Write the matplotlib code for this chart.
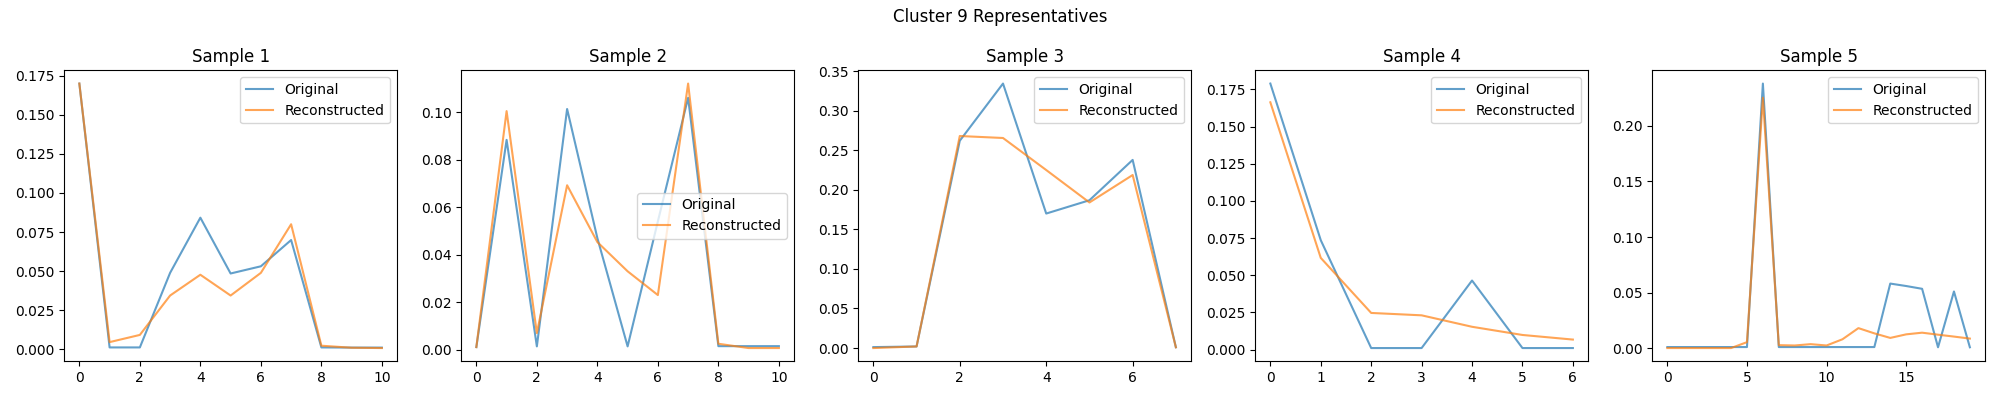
import matplotlib
matplotlib.use("Agg")
import matplotlib.pyplot as plt
import numpy as np

cluster_id = 9

# values
orig_1 = [0.170, 0.0012, 0.0012, 0.0489, 0.0842, 0.0485, 0.0531, 0.0699, 0.0012, 0.0011, 0.0011]
recon_1 = [0.170, 0.0046, 0.0092, 0.0344, 0.0477, 0.0344, 0.0489, 0.0800, 0.0023, 0.0010, 0.0008]

orig_2 = [0.0011, 0.0883, 0.0014, 0.1013, 0.0470, 0.0014, 0.0540, 0.1060, 0.0015, 0.0015, 0.0015]
recon_2 = [0.0011, 0.1004, 0.0070, 0.0692, 0.0453, 0.0330, 0.0230, 0.1120, 0.0025, 0.0007, 0.0007]

orig_3 = [0.0012, 0.0020, 0.2620, 0.3343, 0.1700, 0.1868, 0.2378, 0.0010]
recon_3 = [0.0000, 0.0020, 0.2680, 0.2655, 0.2250, 0.1840, 0.2187, 0.0010]

orig_4 = [0.1789, 0.0736, 0.0011, 0.0011, 0.0465, 0.0011, 0.0011]
recon_4 = [0.1663, 0.0617, 0.0247, 0.0231, 0.0154, 0.0099, 0.0068]

orig_5 = [0.0012, 0.0012, 0.0012, 0.0012, 0.0012, 0.0012, 0.2378, 0.0012, 0.0012, 0.0012,
          0.0012, 0.0012, 0.0012, 0.0012, 0.0582, 0.0560, 0.0535, 0.0010, 0.0511, 0.0010]
recon_5 = [0.0003, 0.0003, 0.0003, 0.0003, 0.0003, 0.0056, 0.2251, 0.0029, 0.0026, 0.0038,
           0.0026, 0.0082, 0.0182, 0.0135, 0.0094, 0.0126, 0.0141, 0.0123, 0.0106, 0.0088]

originals = [orig_1, orig_2, orig_3, orig_4, orig_5]
reconstructions = [recon_1, recon_2, recon_3, recon_4, recon_5]
legend_locs = ["upper right", "center right", "upper right", "upper right", "upper right"]

fig, axes = plt.subplots(1, 5, figsize=(20, 4))
for i, ax in enumerate(axes):
    ax.plot(np.arange(len(originals[i])), originals[i], label="Original", alpha=0.7)
    ax.plot(np.arange(len(reconstructions[i])), reconstructions[i], label="Reconstructed", alpha=0.7)
    ax.set_title(f"Sample {i + 1}")
    ax.legend(loc=legend_locs[i])

fig.suptitle(f"Cluster {cluster_id} Representatives")
plt.tight_layout()
plt.savefig("out.png", dpi=100)
